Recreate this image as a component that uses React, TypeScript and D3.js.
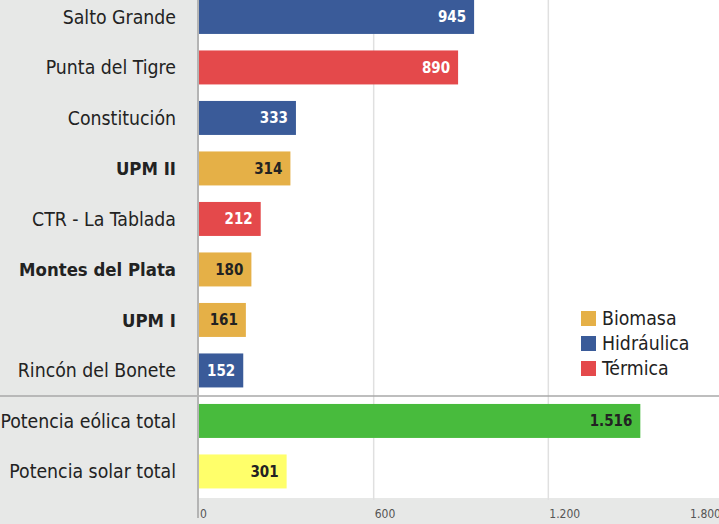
import React from "react";
import * as d3 from "d3";

const categories = [
  "Salto Grande",
  "Punta del Tigre",
  "Constitución",
  "UPM II",
  "CTR - La Tablada",
  "Montes del Plata",
  "UPM I",
  "Rincón del Bonete",
  "Potencia eólica total",
  "Potencia solar total",
];
const values = [945, 890, 333, 314, 212, 180, 161, 152, 1516, 301];
const types = [
  "Hidráulica",
  "Térmica",
  "Hidráulica",
  "Biomasa",
  "Térmica",
  "Biomasa",
  "Biomasa",
  "Hidráulica",
  "Eólica",
  "Solar",
];
const boldLabels = ["UPM II", "Montes del Plata", "UPM I"];
const legendItems = ["Biomasa", "Hidráulica", "Térmica"];
const xTicks = [0, 600, 1200, 1800];

const colors: Record<string, string> = {
  Biomasa: "#e5b047",
  Hidráulica: "#3a5b99",
  Térmica: "#e4494b",
  Eólica: "#48bb3d",
  Solar: "#ffff6a",
};
const labelColors: Record<string, string> = {
  Biomasa: "#222",
  Hidráulica: "#fff",
  Térmica: "#fff",
  Eólica: "#222",
  Solar: "#222",
};

const W = 719;
const H = 524;
const FONT = "'DejaVu Sans Condensed', sans-serif";
const fmt = (v: number) => d3.format(",")(v).replace(/,/g, ".");

export default function App() {
  const x = d3.scaleLinear().domain([0, 1800]).range([199, 723]);
  const y = d3
    .scaleBand<string>()
    .domain(categories)
    .range([-8.3, 496.7])
    .paddingInner(0.327)
    .paddingOuter(0.1635);
  const stripTop = 498;
  const sepY = 396;

  return (
    <svg
      width={W}
      height={H}
      style={{ position: "absolute", left: 0, top: 0, display: "block" }}
    >
      <rect x={0} y={0} width={W} height={H} fill="#fff" />
      <rect x={0} y={0} width={198} height={H} fill="#e7e8e7" />
      <rect x={0} y={stripTop} width={W} height={H - stripTop} fill="#e7e8e7" />
      {xTicks.slice(1).map((t) => (
        <line
          key={t}
          x1={x(t)}
          x2={x(t)}
          y1={0}
          y2={stripTop + 2}
          stroke="#e0e0e0"
          strokeWidth={1.5}
        />
      ))}
      <line x1={0} x2={W} y1={sepY} y2={sepY} stroke="#a8a8a8" strokeWidth={1.3} />
      {categories.map((c, i) => {
        const t = types[i];
        const y0 = y(c)!;
        const bw = y.bandwidth();
        const x1 = x(values[i]);
        const bold = boldLabels.includes(c);
        return (
          <g key={c}>
            <rect x={x(0)} y={y0} width={x1 - x(0)} height={bw} fill={colors[t]} />
            <text
              x={x1 - 8}
              y={y0 + bw / 2}
              dy="0.36em"
              textAnchor="end"
              fontFamily={FONT}
              fontWeight={700}
              fontSize={15}
              fill={labelColors[t]}
            >
              {fmt(values[i])}
            </text>
            <text
              x={176}
              y={y0 + bw / 2}
              dy="0.36em"
              textAnchor="end"
              fontFamily={FONT}
              fontWeight={bold ? 700 : 400}
              fontSize={bold ? 18.4 : 19.3}
              fill="#222"
            >
              {c}
            </text>
          </g>
        );
      })}
      <line x1={198} x2={198} y1={0} y2={518} stroke="#b4b4b4" strokeWidth={2} />
      {xTicks.map((t, i) => {
        const last = i === xTicks.length - 1;
        return (
          <text
            key={t}
            x={last ? W + 2 : x(t) + 1}
            y={518}
            textAnchor={last ? "end" : "start"}
            fontFamily={FONT}
            fontSize={12}
            fill="#555"
          >
            {fmt(t)}
          </text>
        );
      })}
      {legendItems.map((l, i) => (
        <g key={l} transform={`translate(581, ${311 + i * 25})`}>
          <rect x={0} y={0} width={15} height={15} fill={colors[l]} />
          <text
            x={21}
            y={7.5}
            dy="0.36em"
            fontFamily={FONT}
            fontSize={19.3}
            fill="#222"
          >
            {l}
          </text>
        </g>
      ))}
    </svg>
  );
}
